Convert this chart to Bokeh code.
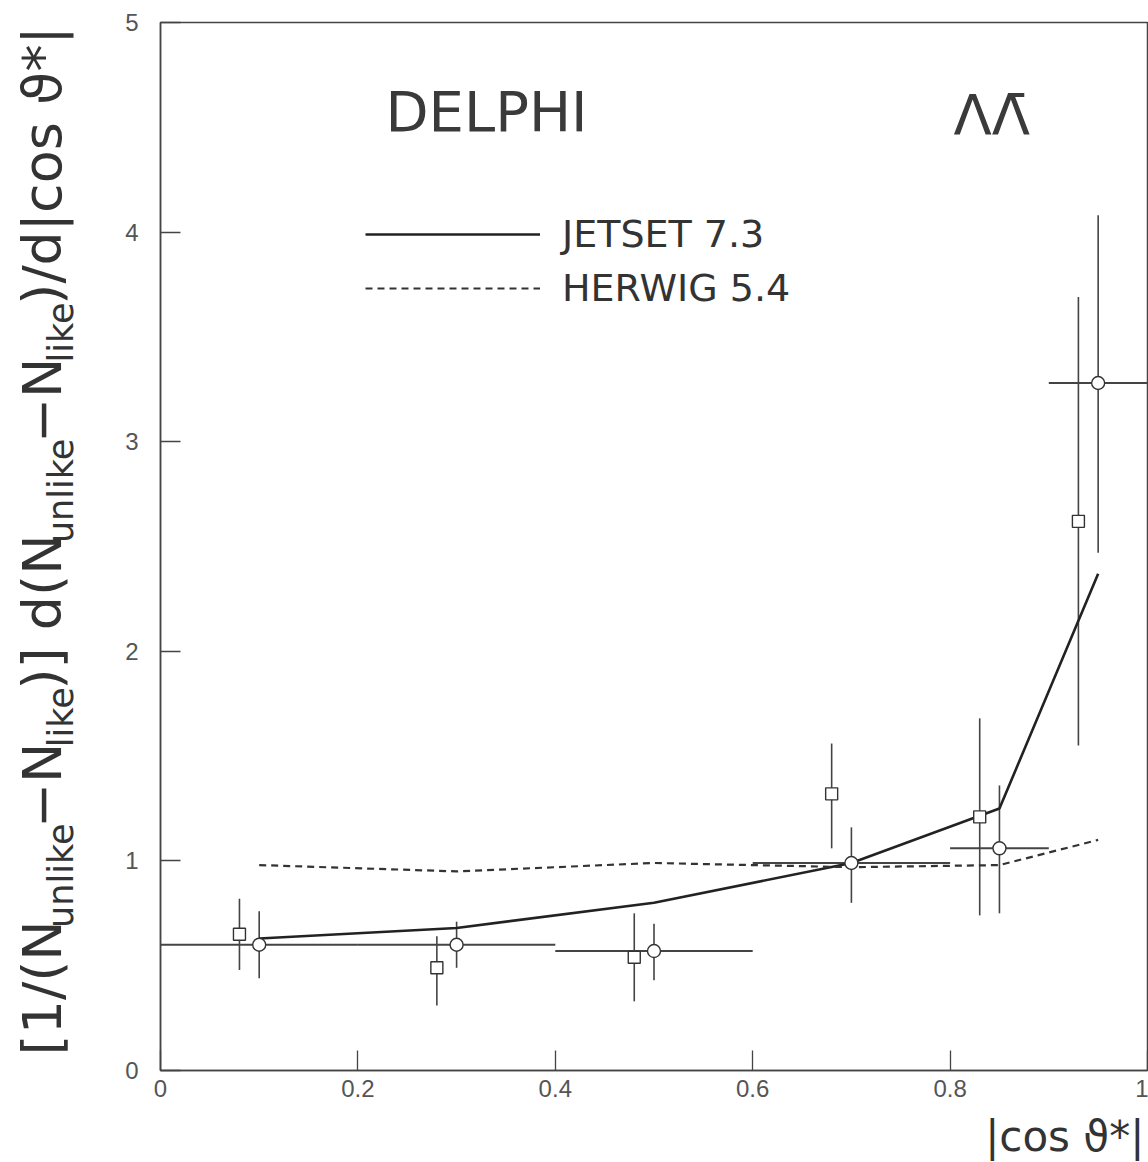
from bokeh.plotting import figure
from bokeh.models import Label, Legend, LegendItem, FixedTicker, ColumnDataSource, Range1d
from bokeh.layouts import row, column
from bokeh.embed import file_html
from bokeh.resources import INLINE
import math

# ---------------- data ----------------
x_ticks = [0, 0.2, 0.4, 0.6, 0.8, 1.0]
x_tick_labels = ["0", "0.2", "0.4", "0.6", "0.8", "1"]
y_ticks = [0, 1, 2, 3, 4, 5]
y_tick_labels = ["0", "1", "2", "3", "4", "5"]

# open circles (with bin-width bars)
circ_x = [0.10, 0.30, 0.50, 0.70, 0.85, 0.95]
circ_y = [0.60, 0.60, 0.57, 0.99, 1.06, 3.28]
circ_lo = [0.44, 0.49, 0.43, 0.80, 0.75, 2.47]
circ_hi = [0.76, 0.71, 0.70, 1.16, 1.36, 4.08]
bin_lo = [0.0, 0.2, 0.4, 0.6, 0.8, 0.9]
bin_hi = [0.2, 0.4, 0.6, 0.8, 0.9, 1.0]

# open squares
sq_x = [0.08, 0.28, 0.48, 0.68, 0.83, 0.93]
sq_y = [0.65, 0.49, 0.54, 1.32, 1.21, 2.62]
sq_lo = [0.48, 0.31, 0.33, 1.06, 0.74, 1.55]
sq_hi = [0.82, 0.64, 0.75, 1.56, 1.68, 3.69]

# model curves
jet_x = [0.10, 0.30, 0.50, 0.70, 0.85, 0.95]
jet_y = [0.63, 0.68, 0.80, 0.99, 1.25, 2.37]
her_x = [0.10, 0.30, 0.50, 0.70, 0.85, 0.95]
her_y = [0.98, 0.95, 0.99, 0.97, 0.98, 1.10]

# ---------------- layout ----------------
W, H = 1148, 1162
LEFT_STRIP = 120          # width of the strip holding the y title
BOTTOM_STRIP = 52         # height of the strip holding the x title
MW, MH = W - LEFT_STRIP, H - BOTTOM_STRIP
BL, BR, BT, BB = 40, 1, 22, 40
FL = LEFT_STRIP + BL       # frame left on the page
FW = MW - BL - BR
FH = MH - BT - BB
X0, X1, Y0, Y1 = 0.0, 1.0, 0.0, 5.0

def px_x(px):
    return X0 + (px - FL) / FW * (X1 - X0)

def px_y(py):
    return Y0 + (BT + FH - py) / FH * (Y1 - Y0)

INK = "#333333"
FONT = "DejaVu Sans"

p = figure(width=MW, height=MH, x_range=(X0, X1), y_range=(Y0, Y1),
           output_backend="svg", toolbar_location=None,
           min_border_left=BL, min_border_right=BR,
           min_border_top=BT, min_border_bottom=BB)
p.background_fill_color = "white"
p.border_fill_color = "white"
p.outline_line_color = "#444444"
p.outline_line_width = 1.5
p.xgrid.visible = False
p.ygrid.visible = False

for ax, ticks, labels, standoff in ((p.xaxis[0], x_ticks, x_tick_labels, 9),
                                     (p.yaxis[0], y_ticks, y_tick_labels, 22)):
    ax.ticker = FixedTicker(ticks=ticks)
    ax.major_label_overrides = {t: l for t, l in zip(ticks, labels)}
    ax.major_tick_in = 20
    ax.major_tick_out = 0
    ax.minor_tick_line_color = None
    ax.major_tick_line_color = "#444444"
    ax.major_tick_line_width = 1.3
    ax.axis_line_color = "#444444"
    ax.axis_line_width = 1.5
    ax.major_label_text_font = "Liberation Sans"
    ax.major_label_text_font_size = "24px"
    ax.major_label_text_color = "#555555"
    ax.major_label_standoff = standoff
p.yaxis[0].major_label_orientation = "horizontal"

# ---------------- error bars ----------------
bars = ColumnDataSource(dict(x=circ_x, y=circ_y, lo=circ_lo, hi=circ_hi,
                             xl=bin_lo, xh=bin_hi))
p.segment(x0="x", y0="lo", x1="x", y1="hi", source=bars, line_color="#444444", line_width=1.6)
p.segment(x0="xl", y0="y", x1="xh", y1="y", source=bars, line_color="#444444", line_width=2)
sqs = ColumnDataSource(dict(x=sq_x, y=sq_y, lo=sq_lo, hi=sq_hi))
p.segment(x0="x", y0="lo", x1="x", y1="hi", source=sqs, line_color="#444444", line_width=1.6)

# ---------------- model curves ----------------
r_jet = p.line(jet_x, jet_y, line_color="#222222", line_width=2.6)
r_her = p.line(her_x, her_y, line_color="#333333", line_width=2.2, line_dash="7 5")

# ---------------- markers ----------------
p.scatter(x="x", y="y", source=bars, marker="circle", size=13,
          fill_color="white", line_color="#333333", line_width=1.4)
p.scatter(x="x", y="y", source=sqs, marker="square", size=12,
          fill_color="white", line_color="#333333", line_width=1.4)

# ---------------- legend ----------------
legend = Legend(items=[LegendItem(label="JETSET 7.3", renderers=[r_jet]),
                       LegendItem(label="HERWIG 5.4", renderers=[r_her])],
                location=(365 - FL, BT + FH - 310), orientation="vertical",
                glyph_width=175, glyph_height=20, label_standoff=22,
                label_text_font=FONT, label_text_font_size="38px",
                label_text_color=INK, spacing=10, padding=0, margin=0,
                border_line_color=None, background_fill_alpha=0)
p.add_layout(legend)

# ---------------- in-plot texts ----------------
p.add_layout(Label(x=px_x(385), y=px_y(143), text="DELPHI", text_font=FONT,
                   text_font_size="56px", text_color="#3a3a3a"))
p.add_layout(Label(x=px_x(953), y=px_y(146), text="ΛΛ\u0304", text_font=FONT,
                   text_font_size="56px", text_color="#3a3a3a"))

# ---------------- y title strip (page pixel coordinates) ----------------
yfig = figure(width=LEFT_STRIP, height=MH, x_range=Range1d(0, LEFT_STRIP),
              y_range=Range1d(MH, 0), output_backend="svg", toolbar_location=None,
              x_axis_type=None, y_axis_type=None, min_border=0)
yfig.title.visible = False
yfig.outline_line_color = None
yfig.xgrid.visible = False
yfig.ygrid.visible = False

ADV = {' ': 318, '(': 390, ')': 390, '*': 500, '/': 337, '1': 636, '[': 390, ']': 390,
       '|': 337, 'N': 748, 'c': 550, 'd': 635, 'e': 615, 'i': 278, 'k': 579, 'l': 278,
       'n': 634, 'o': 612, 's': 521, 'u': 634, '\u2212': 838, '\u03d1': 640}

def adv(s, size):
    return sum(ADV.get(c, 600) for c in s) / 1000.0 * size

FM, FS = 54, 35
pieces = [("[1/(N", False), ("unlike", True), ("\u2212N", False), ("like", True),
          (")] d(N", False), ("unlike", True), ("\u2212N", False), ("like", True),
          (")/d|cos \u03d1*|", False)]
ypos = 1094.0
for txt, sub in pieces:
    size = FS if sub else FM
    base_x = 80 if sub else 73
    yfig.add_layout(Label(x=base_x, y=ypos, text=txt, angle=math.pi / 2,
                          text_font=FONT, text_font_size=f"{size}px", text_color=INK,
                          text_align="left"))
    ypos -= adv(txt, size)

# ---------------- x title strip (page pixel coordinates) ----------------
xfig = figure(width=W, height=BOTTOM_STRIP, x_range=Range1d(0, W),
              y_range=Range1d(H, MH), output_backend="svg", toolbar_location=None,
              x_axis_type=None, y_axis_type=None, min_border=0)
xfig.title.visible = False
xfig.outline_line_color = None
xfig.xgrid.visible = False
xfig.ygrid.visible = False
xfig.add_layout(Label(x=W - 4, y=1160, text="|cos \u03d1*|", text_font=FONT,
                      text_font_size="42px", text_color=INK, text_align="right"))

layout = column(row(yfig, p, spacing=0), xfig, spacing=0)
open("out.html", "w").write(file_html(layout, INLINE))
